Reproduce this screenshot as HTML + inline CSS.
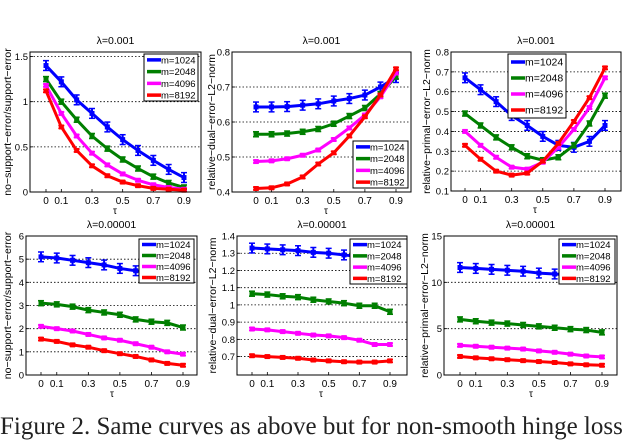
<!DOCTYPE html>
<html><head><meta charset="utf-8">
<style>
body{margin:0;background:#fff;width:622px;height:426px;overflow:hidden;position:relative;font-family:"Liberation Sans",sans-serif}
svg{position:absolute;left:0;top:0}
.cap{position:absolute;left:0;top:413px;font-family:"Liberation Serif",serif;font-size:25px;white-space:nowrap;color:#222}
</style></head><body>
<div class="cap">Figure 2. Same curves as above but for non-smooth hinge loss</div>
<svg id="fig" width="622" height="426"></svg>
<script>
const taus=[0,0.1,0.2,0.3,0.4,0.5,0.6,0.7,0.8,0.9];
const seriesNames=["m=1024","m=2048","m=4096","m=8192"];
const colors=["#0000ff","#007f00","#ff00ff","#ff0000"];
const p1=[[1.4,1.22,1.02,0.87,0.72,0.58,0.46,0.35,0.25,0.16],[1.25,1.0,0.8,0.62,0.48,0.36,0.26,0.17,0.1,0.05],[1.18,0.87,0.62,0.43,0.3,0.2,0.13,0.08,0.05,0.03],[1.12,0.72,0.46,0.29,0.18,0.11,0.07,0.04,0.03,0.02]];
const p2=[[0.643,0.643,0.644,0.648,0.652,0.66,0.667,0.677,0.70,0.727],[0.565,0.565,0.567,0.572,0.58,0.595,0.617,0.64,0.68,0.73],[0.487,0.489,0.495,0.505,0.52,0.55,0.583,0.62,0.672,0.74],[0.41,0.412,0.423,0.443,0.48,0.512,0.56,0.615,0.677,0.752]];
const p3=[[0.67,0.61,0.55,0.48,0.43,0.375,0.33,0.32,0.35,0.43],[0.49,0.43,0.37,0.32,0.275,0.255,0.27,0.33,0.44,0.58],[0.40,0.33,0.27,0.22,0.21,0.245,0.32,0.41,0.52,0.67],[0.33,0.26,0.20,0.18,0.19,0.25,0.34,0.45,0.57,0.72]];
const p4=[[5.1,5.05,4.95,4.85,4.75,4.6,4.5,4.4,4.3,4.2],[3.1,3.05,2.95,2.8,2.7,2.6,2.4,2.3,2.25,2.05],[2.1,2.0,1.9,1.75,1.6,1.5,1.35,1.2,1.0,0.9],[1.55,1.45,1.3,1.2,1.05,0.92,0.8,0.65,0.5,0.42]];
const p5=[[1.33,1.325,1.32,1.315,1.305,1.3,1.29,1.28,1.27,1.26],[1.065,1.06,1.05,1.045,1.03,1.02,1.01,0.995,0.995,0.96],[0.86,0.855,0.845,0.835,0.825,0.82,0.81,0.795,0.77,0.77],[0.705,0.7,0.695,0.69,0.68,0.675,0.67,0.668,0.668,0.675]];
const p6=[[11.6,11.5,11.4,11.3,11.2,11.0,10.9,10.8,10.6,10.4],[6.0,5.8,5.65,5.55,5.4,5.25,5.1,4.95,4.85,4.6],[3.2,3.1,3.0,2.9,2.8,2.6,2.45,2.25,2.05,1.95],[2.0,1.85,1.75,1.65,1.55,1.45,1.35,1.2,1.1,1.05]];
const errFrac=[0.035,0.018,0.01,0.01];
const xTickVals=[0,0.1,0.3,0.5,0.7,0.9];
const xTickLabels=["0","0.1","0.3","0.5","0.7","0.9"];
const y1Ticks=[0,0.5,1,1.5],y1Labels=["0","0.5","1","1.5"];
const y2Ticks=[0.4,0.5,0.6,0.7,0.8],y2Labels=["0.4","0.5","0.6","0.7","0.8"];
const y3Ticks=[0.1,0.2,0.3,0.4,0.5,0.6,0.7,0.8],y3Labels=["0.1","0.2","0.3","0.4","0.5","0.6","0.7","0.8"];
const y4Ticks=[0,1,2,3,4,5,6],y4Labels=["0","1","2","3","4","5","6"];
const y5Ticks=[0.7,0.8,0.9,1,1.1,1.2,1.3,1.4],y5Labels=["0.7","0.8","0.9","1","1.1","1.2","1.3","1.4"];
const y6Ticks=[0,5,10,15],y6Labels=["0","5","10","15"];

const panels=[
 {d:p1,t:"λ=0.001",yl:"no−support−error/support−error",L:30,R:201,T:52,B:192,x0:46,x9:184,ymin:0,ymax:1.55,yt:y1Ticks,ytl:y1Labels,ylx:8,leg:[144,54,54,47]},
 {d:p2,t:"λ=0.001",yl:"relative−dual−error−L2−norm",L:232,R:411,T:52,B:192,x0:256,x9:396,ymin:0.4,ymax:0.8,yt:y2Ticks,ytl:y2Labels,ylx:212,leg:[353,141,55,47]},
 {d:p3,t:"λ=0.001",yl:"relative−primal−error−L2−norm",L:451,R:621,T:52,B:191,x0:465,x9:605,ymin:0.1,ymax:0.8,yt:y3Ticks,ytl:y3Labels,ylx:427,leg:[508,54,58,64]},
 {d:p4,t:"λ=0.00001",yl:"no−support−error/support−error",L:26,R:197,T:236,B:375,x0:41,x9:183,ymin:0,ymax:6,yt:y4Ticks,ytl:y4Labels,ylx:8,leg:[139,239,55,44]},
 {d:p5,t:"λ=0.00001",yl:"relative−dual−error−L2−norm",L:237,R:407,T:236,B:375,x0:252,x9:390,ymin:0.593,ymax:1.4,yt:y5Ticks,ytl:y5Labels,ylx:213,leg:[350,239,57,45]},
 {d:p6,t:"λ=0.00001",yl:"relative−primal−error−L2−norm",L:444,R:617,T:236,B:375,x0:460,x9:602,ymin:0,ymax:15,yt:y6Ticks,ytl:y6Labels,ylx:425,leg:[559,239,56,45]}
];
const NS="http://www.w3.org/2000/svg";
const svg=document.getElementById('fig');
function mk(tag,attrs,parent){const e=document.createElementNS(NS,tag);for(const k in attrs)e.setAttribute(k,attrs[k]);(parent||svg).appendChild(e);return e;}
panels.forEach((p,pi)=>{
 const g=mk('g',{});
 
 
 const xs=v=>p.x0+(p.x9-p.x0)*v/0.9;
 const ys=v=>p.B-(p.B-p.T)*(v-p.ymin)/(p.ymax-p.ymin);
 mk('rect',{x:p.L,y:p.T,width:p.R-p.L,height:p.B-p.T,fill:'#fff',stroke:'none'},g);
 p.yt.forEach((v,i)=>{
  const y=ys(v);
  if(y>p.T+1&&y<p.B-1) mk('line',{x1:p.L,x2:p.R,y1:y,y2:y,stroke:'#000','stroke-width':0.8,'stroke-dasharray':'1.5,2'},g);
  mk('line',{x1:p.L,x2:p.L+3,y1:y,y2:y,stroke:'#000','stroke-width':0.8},g);
  const t=mk('text',{x:p.L-2,y:y+3.5,'font-size':9.5,'text-anchor':'end'},g);t.textContent=p.ytl[i];
  
 });
 xTickVals.forEach((v,i)=>{
  const x=xs(v);
  mk('line',{x1:x,x2:x,y1:p.B,y2:p.B-3,stroke:'#000','stroke-width':0.8},g);
  const t=mk('text',{x:x,y:p.B+12,'font-size':10,'text-anchor':'middle'},g);t.textContent=xTickLabels[i];
  
 });
 const xl=mk('text',{x:(p.x0+p.x9)/2,y:p.B+22,'font-size':10,'text-anchor':'middle'},g);xl.textContent='τ';
 
 const ti=mk('text',{x:(p.L+p.R)/2,y:p.T-8,'font-size':10.5,'text-anchor':'middle'},g);ti.textContent=p.t;
 
 const cy=(p.T+p.B)/2;
 const yl=mk('text',{x:p.ylx,y:cy,'font-size':10.5,'text-anchor':'middle',transform:`rotate(-90 ${p.ylx} ${cy})`,'dominant-baseline':'central'},g);yl.textContent=p.yl;
 
 p.d.forEach((vals,si)=>{
  const c=colors[si];
  const pts=vals.map((v,i)=>xs(taus[i])+','+ys(v)).join(' ');
  const line=mk('polyline',{points:pts,fill:'none',stroke:c,'stroke-width':3,'stroke-linejoin':'round'},g);
  
  
  vals.forEach((v,i)=>{
   const e=(p.ymax-p.ymin)*errFrac[si];
   const x=xs(taus[i]),y1=ys(v+e),y2=ys(v-e);
   mk('line',{x1:x,x2:x,y1:y1,y2:y2,stroke:c,'stroke-width':2},g);
   mk('line',{x1:x-3,x2:x+3,y1:y1,y2:y1,stroke:c,'stroke-width':1.5},g);
   mk('line',{x1:x-3,x2:x+3,y1:y2,y2:y2,stroke:c,'stroke-width':1.5},g);
   mk('rect',{x:x-2.5,y:ys(v)-2.5,width:5,height:5,fill:c},g);
  });
 });
 mk('rect',{x:p.L,y:p.T,width:p.R-p.L,height:p.B-p.T,fill:'none',stroke:'#000','stroke-width':1},g);
 const [lx,ly,lw,lh]=p.leg;
 const lg=mk('g',{},g);
 
 
 mk('rect',{x:lx,y:ly,width:lw,height:lh,fill:'#fff',stroke:'#000','stroke-width':1},lg);
 const step=lh/4;
 seriesNames.forEach((n,si)=>{
  const yy=ly+step*(si+0.5);
  mk('line',{x1:lx+3,x2:lx+17,y1:yy,y2:yy,stroke:colors[si],'stroke-width':3.5},lg);
  const t=mk('text',{x:lx+17,y:yy+3.5,'font-size':step>13?10.5:9.5},lg);t.textContent=n;
  
 });
});
</script>
</body></html>
